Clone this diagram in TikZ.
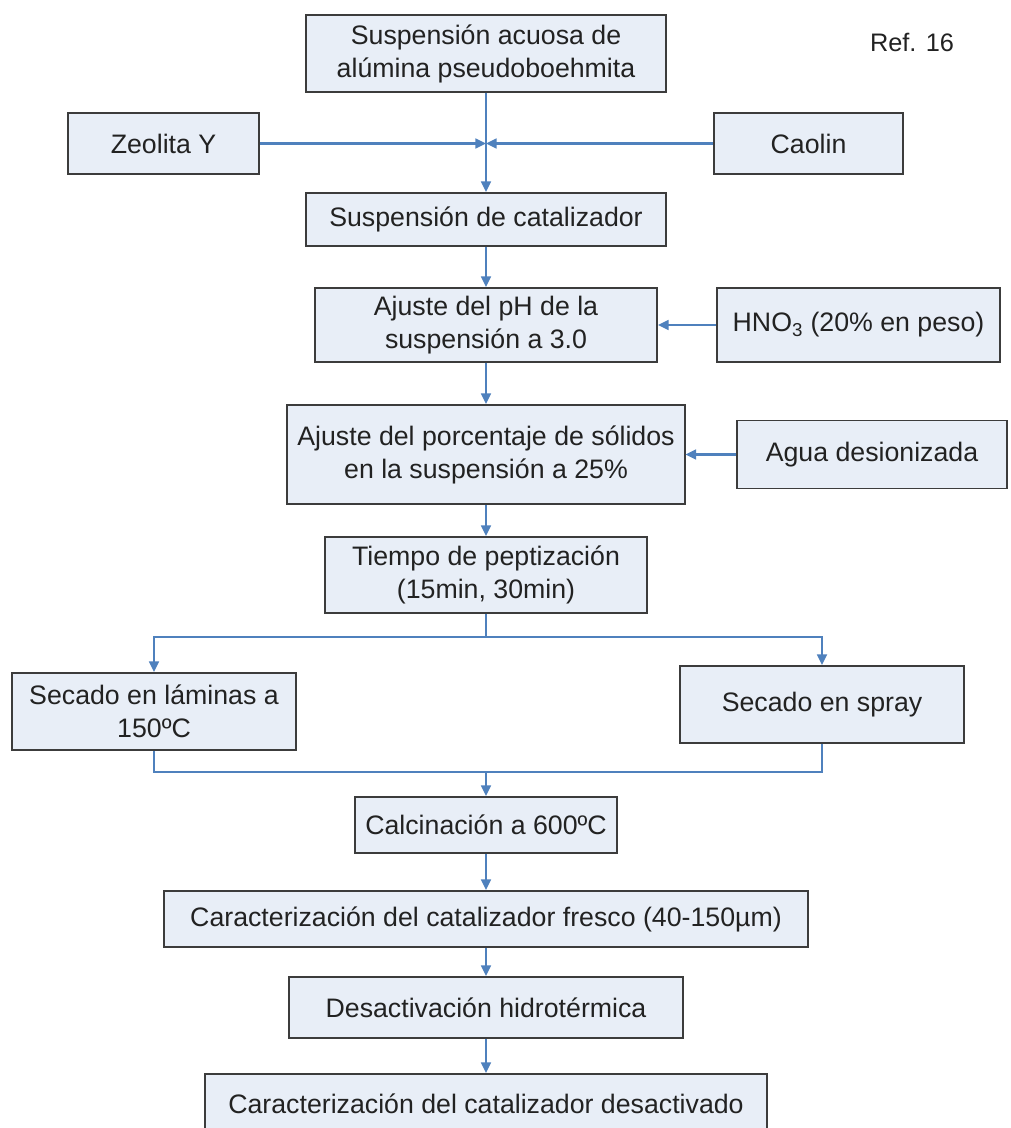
\documentclass[tikz,border=0pt]{standalone}
\usepackage{fontspec}
\setmainfont{Liberation Sans}
\usetikzlibrary{arrows.meta}
\definecolor{boxline}{HTML}{3C3C3C}
\definecolor{boxfill}{HTML}{E8EEF7}
\definecolor{conncol}{HTML}{4F81BD}
\definecolor{txt}{HTML}{222222}
\begin{document}
\begin{tikzpicture}[x=0.025cm,y=-0.025cm,
  boxs/.style={draw=boxline, line width=1.4pt, fill=boxfill, inner sep=0pt,
    align=center, text=txt, font=\fontsize{19}{23.5}\selectfont},
  conn/.style={draw=conncol, line width=1.5pt},
  arr/.style={conn, -{Triangle[length=7.5pt,width=7pt]}}]
\useasboundingbox[fill=white] (0,0) rectangle (1010,1128);

\node[font=\fontsize{18}{20}\selectfont, text=txt] (ref) at (912,42) {Ref. 16};

\node[boxs, minimum width=9cm, minimum height=1.925cm] (A) at (486,53.5)
  {Suspensión acuosa de\\alúmina pseudoboehmita};
\node[boxs, minimum width=4.775cm, minimum height=1.525cm] (zeo) at (163.5,143.5) {Zeolita Y};
\node[boxs, minimum width=4.725cm, minimum height=1.525cm] (cao) at (808.5,143.5) {Caolin};
\node[boxs, minimum width=9cm, minimum height=1.325cm] (B) at (486,219.5) {Suspensión de catalizador};
\node[boxs, minimum width=8.55cm, minimum height=1.85cm] (C) at (486,325)
  {Ajuste del pH de la\\suspensión a 3.0};
\node[boxs, minimum width=7.075cm, minimum height=1.85cm] (hno) at (858.5,325)
  {HNO\textsubscript{3} (20\% en peso)};
\node[boxs, minimum width=9.925cm, minimum height=2.475cm] (D) at (486,454.5)
  {Ajuste del porcentaje de sólidos\\en la suspensión a 25\%};
\node[boxs, minimum width=6.75cm, minimum height=1.7cm] (agua) at (872,454.5) {Agua desionizada};
\node[boxs, minimum width=8.025cm, minimum height=1.9cm] (E) at (486,575)
  {Tiempo de peptización\\(15min, 30min)};
\node[boxs, minimum width=7.1cm, minimum height=1.925cm] (F) at (154,711.5)
  {Secado en láminas a\\150ºC};
\node[boxs, minimum width=7.1cm, minimum height=1.925cm] (G) at (822,704.5) {Secado en spray};
\node[boxs, minimum width=6.525cm, minimum height=1.4cm] (H) at (486,825) {Calcinación a 600ºC};
\node[boxs, minimum width=16.075cm, minimum height=1.4cm] (I) at (486,919)
  {Caracterización del catalizador fresco (40-150µm)};
\node[boxs, minimum width=9.85cm, minimum height=1.525cm] (J) at (486,1007.5) {Desactivación hidrotérmica};
\node[boxs, minimum width=14.05cm, minimum height=1.5cm] (K) at (486,1104) {Caracterización del catalizador desactivado};

\coordinate (jn) at (486,143.5);
\coordinate (br) at (486,637);
\coordinate (mg) at (486,772);

\draw[arr] (A) -- (B);
\draw[arr] (zeo) -- (jn);
\draw[arr] (cao) -- (jn);
\draw[arr] (B) -- (C);
\draw[arr] (hno) -- (C);
\draw[arr] (C) -- (D);
\draw[arr] (agua) -- (D);
\draw[arr] (D) -- (E);
\draw[conn] (E) -- (br);
\draw[arr] (br) -| (F);
\draw[arr] (br) -| (G);
\draw[conn] (F) |- (mg);
\draw[conn] (G) |- (mg);
\draw[arr] (mg) -- (H);
\draw[arr] (H) -- (I);
\draw[arr] (I) -- (J);
\draw[arr] (J) -- (K);
\end{tikzpicture}
\end{document}
